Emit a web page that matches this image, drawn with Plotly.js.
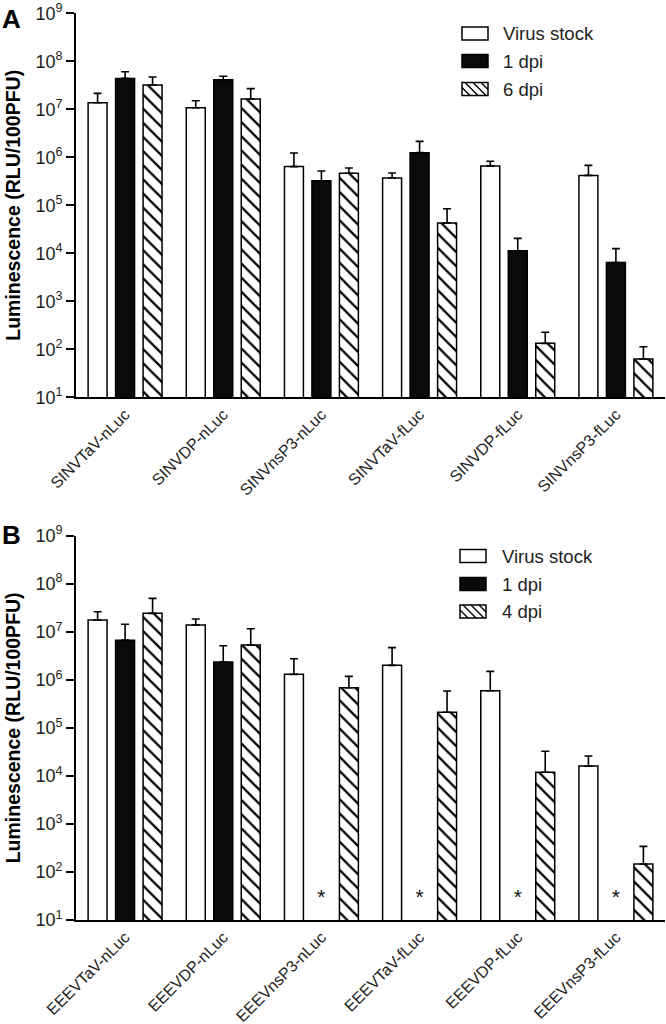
<!DOCTYPE html>
<html>
<head>
<meta charset="utf-8">
<script src="https://cdn.plot.ly/plotly-3.0.1.min.js"></script>
<style>html,body{margin:0;padding:0;background:#fff;}#chart{width:666px;height:1024px;}</style>
</head>
<body>
<div id="chart"></div>
<script>
// ---- Data ----
const catsA = ['SINVTaV-nLuc','SINVDP-nLuc','SINVnsP3-nLuc','SINVTaV-fLuc','SINVDP-fLuc','SINVnsP3-fLuc'];
const catsB = ['EEEVTaV-nLuc','EEEVDP-nLuc','EEEVnsP3-nLuc','EEEVTaV-fLuc','EEEVDP-fLuc','EEEVnsP3-fLuc'];

const seriesNamesA = ['Virus stock','1 dpi','6 dpi'];
const seriesNamesB = ['Virus stock','1 dpi','4 dpi'];

// Panel A means and upper error-bar tops
const aStock     = [1.37e7, 1.08e7, 6.4e5, 3.7e5, 6.6e5, 4.2e5];
const aStockTop  = [2.15e7, 1.51e7, 1.23e6, 4.7e5, 8.3e5, 6.8e5];
const a1dpi      = [4.4e7, 4.14e7, 3.25e5, 1.25e6, 1.13e4, 6.4e3];
const a1dpiTop   = [6.07e7, 4.87e7, 5.2e5, 2.15e6, 2.05e4, 1.25e4];
const a6dpi      = [3.2e7, 1.64e7, 4.64e5, 4.3e4, 133, 63];
const a6dpiTop   = [4.7e7, 2.69e7, 6.0e5, 8.5e4, 226, 113];

// Panel B means and upper error-bar tops (null = not detected)
const bStock     = [1.75e7, 1.38e7, 1.3e6, 2.0e6, 5.9e5, 1.6e4];
const bStockTop  = [2.61e7, 1.84e7, 2.75e6, 4.67e6, 1.5e6, 2.6e4];
const b1dpi      = [6.7e6, 2.34e6, null, null, null, null];
const b1dpiTop   = [1.43e7, 5.1e6, null, null, null, null];
const b4dpi      = [2.42e7, 5.28e6, 6.85e5, 2.11e5, 1.19e4, 146];
const b4dpiTop   = [4.96e7, 1.16e7, 1.18e6, 5.85e5, 3.25e4, 341];

// Not-detected markers (panel B, 1 dpi)
const ndCats   = ['EEEVnsP3-nLuc','EEEVTaV-fLuc','EEEVDP-fLuc','EEEVnsP3-fLuc'];
const ndLevel  = [28, 28, 28, 28];

// Tick labels
const tickVals = [1e1,1e2,1e3,1e4,1e5,1e6,1e7,1e8,1e9];
const tickText = ['10<sup>1</sup>','10<sup>2</sup>','10<sup>3</sup>','10<sup>4</sup>','10<sup>5</sup>','10<sup>6</sup>','10<sup>7</sup>','10<sup>8</sup>','10<sup>9</sup>'];

// ---- Styles ----
const W = 666, H = 1024;
const lineW = 1.5;
const fills = ['#ffffff', '#0a0a0a', '#ffffff'];
const styles = [
  {color:fills[0], line:{color:'#000', width:lineW}},
  {color:fills[1], line:{color:'#000', width:lineW}},
  {color:fills[2], line:{color:'#000', width:lineW},
   pattern:{shape:'\\', fgcolor:'#000', bgcolor:'#fff', size:10, solidity:0.22, fillmode:'replace'}}
];
function upper(v, top){ return v.map((x,i)=> (x==null||top[i]==null) ? 0 : top[i]-x); }
function bar(cats, y, top, name, k, xa, ya){
  return {
    type:'bar', x:cats, y:y, name:name, xaxis:xa, yaxis:ya, showlegend:false,
    marker: styles[k],
    error_y:{type:'data', symmetric:false, array:upper(y,top), arrayminus:y.map(()=>0),
             color:'#000', thickness:1.6, width:4},
    hoverinfo:'skip'
  };
}

const traces = [
  bar(catsA, aStock, aStockTop, seriesNamesA[0], 0, 'x', 'y'),
  bar(catsA, a1dpi,  a1dpiTop,  seriesNamesA[1], 1, 'x', 'y'),
  bar(catsA, a6dpi,  a6dpiTop,  seriesNamesA[2], 2, 'x', 'y'),
  bar(catsB, bStock, bStockTop, seriesNamesB[0], 0, 'x2', 'y2'),
  bar(catsB, b1dpi,  b1dpiTop,  seriesNamesB[1], 1, 'x2', 'y2'),
  bar(catsB, b4dpi,  b4dpiTop,  seriesNamesB[2], 2, 'x2', 'y2'),
  {type:'scatter', mode:'text', x:ndCats, y:ndLevel, text:ndCats.map(()=>'*'),
   textposition:'middle center', textfont:{family:'Liberation Sans, Arial, sans-serif', size:21, color:'#111'},
   xaxis:'x2', yaxis:'y2', showlegend:false, hoverinfo:'skip'}
];

const fontFam = 'Liberation Sans, Arial, Helvetica, sans-serif';
function xAxis(anchor){
  return {anchor:anchor, domain:[76/W, 665/W], range:[-0.5,5.5], type:'category',
    showline:true, linecolor:'#000', linewidth:1.8, ticks:'', showgrid:false, zeroline:false,
    tickangle:-45, tickfont:{family:fontFam, size:16, color:'#222'}, fixedrange:true};
}
function yAxis(anchor, top, bottom){
  return {anchor:anchor, domain:[1-bottom/H, 1-top/H], type:'log', range:[1,9],
    tickmode:'array', tickvals:tickVals, ticktext:tickText,
    showline:true, linecolor:'#000', linewidth:1.8, ticks:'outside', ticklen:8, tickwidth:1.8, tickcolor:'#000',
    showgrid:false, zeroline:false, tickfont:{family:fontFam, size:18, color:'#222'},
    title:{text:'Luminescence (RLU/100PFU)', font:{family:fontFam, size:19.5, color:'#000', weight:'bold'}, standoff:10},
    fixedrange:true};
}

// ---- Custom legends (wide swatches like the reference) ----
const px = v => v / W, py = v => 1 - v / H;
function legend(names, x0, rows, textX){
  const shapes = [], anns = [];
  const sw = 26, sh = 13;
  rows.forEach((cy, k) => {
    const y0 = cy - sh/2, y1 = cy + sh/2, x1 = x0 + sw;
    shapes.push({type:'rect', xref:'paper', yref:'paper', x0:px(x0), x1:px(x1), y0:py(y1), y1:py(y0),
      fillcolor:fills[k], line:{color:'#000', width:1.5}, layer:'above'});
    if (k === 2) {
      let d = '';
      for (let s = x0 - sh; s < x1; s += 8) {
        let ax = s, ay = y0, bx = s + sh, by = y1;
        if (ax < x0) { ay += (x0 - ax); ax = x0; }
        if (bx > x1) { by -= (bx - x1); bx = x1; }
        if (bx - ax > 0.5) d += `M${px(ax)},${py(ay)}L${px(bx)},${py(by)}`;
      }
      shapes.push({type:'path', xref:'paper', yref:'paper', path:d, line:{color:'#000', width:1.4}, layer:'above'});
    }
    anns.push({text:names[k], xref:'paper', yref:'paper', x:px(textX), y:py(cy), xanchor:'left', yanchor:'middle',
      showarrow:false, font:{family:fontFam, size:18.5, color:'#222'}});
  });
  return {shapes, anns};
}
const legA = legend(seriesNamesA, 462, [33.5, 61, 89], 501);
const legB = legend(seriesNamesB, 460, [556, 584, 611.5], 500);

const layout = {
  width:W, height:H,
  margin:{l:0, r:0, t:0, b:0},
  paper_bgcolor:'#fff', plot_bgcolor:'#fff',
  barmode:'group', bargap:0.16, bargroupgap:0.31,
  showlegend:false,
  font:{family:fontFam, color:'#222'},
  xaxis: xAxis('y'),
  yaxis: yAxis('x', 13.3, 397.3),
  xaxis2: xAxis('y2'),
  yaxis2: yAxis('x2', 535.7, 920),
  shapes: legA.shapes.concat(legB.shapes),
  annotations: [
    {text:'<b>A</b>', xref:'paper', yref:'paper', x:0, y:1-2/H, xanchor:'left', yanchor:'top', showarrow:false,
     font:{family:fontFam, size:26, color:'#000'}},
    {text:'<b>B</b>', xref:'paper', yref:'paper', x:0, y:1-518/H, xanchor:'left', yanchor:'top', showarrow:false,
     font:{family:fontFam, size:26, color:'#000'}}
  ].concat(legA.anns, legB.anns)
};

Plotly.newPlot('chart', traces, layout, {staticPlot:true, displayModeBar:false});
</script>
</body>
</html>
